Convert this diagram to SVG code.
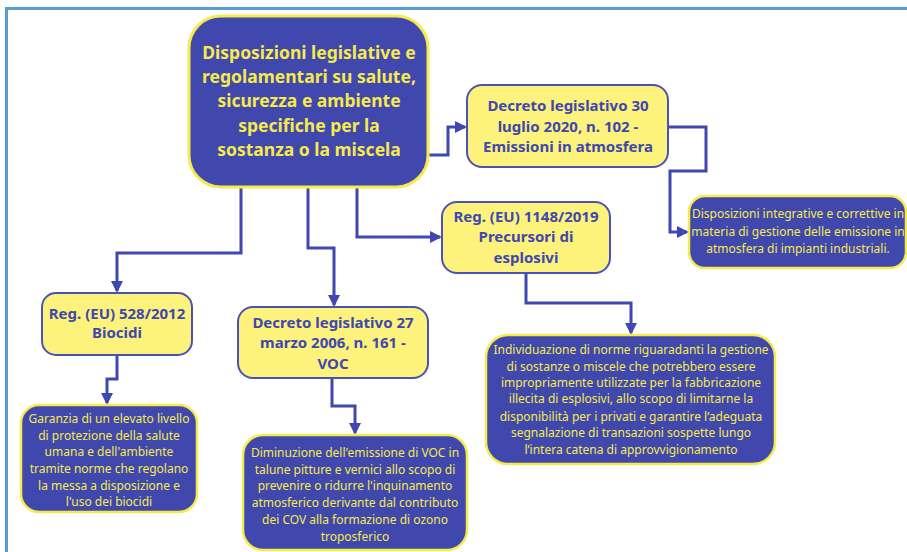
<svg xmlns="http://www.w3.org/2000/svg" width="907" height="552" viewBox="0 0 907 552">
<defs>
<marker id="ah" markerWidth="12" markerHeight="12" refX="10" refY="6" orient="auto" markerUnits="userSpaceOnUse">
<path d="M0,0 L12,6 L0,12 Z" fill="#3f47b0"/>
</marker>
<style>
.yb{fill:#fcf27c;stroke:#4a52b5;stroke-width:2}
.bb{fill:#4048ae;stroke:#f6ea4c;stroke-width:2.5}
.tb{font-family:"Noto Sans","Open Sans",sans-serif;font-weight:bold;fill:#4048ae;text-anchor:middle;font-size:15px}
.tm{font-family:"Noto Sans","Open Sans",sans-serif;font-weight:bold;fill:#f6ea4c;text-anchor:middle;font-size:17.5px}
.ty{font-family:"Noto Sans","Open Sans",sans-serif;fill:#f6ea4c;text-anchor:middle;font-size:12px}
.c{fill:none;stroke:#3f47b0;stroke-width:3}
</style>
</defs>
<rect width="907" height="552" fill="#ffffff"/>
<path d="M6.5,552 L6.5,8.5 L907,8.5" fill="none" stroke="#5b9bd5" stroke-width="3"/>

<g id="connectors">
<path class="c" d="M428,155 H448 V127 H465" marker-end="url(#ah)"/>
<path class="c" d="M668,127 H706 V171 H670 V232 H687" marker-end="url(#ah)"/>
<path class="c" d="M357,187 V237 H440" marker-end="url(#ah)"/>
<path class="c" d="M308,187 V248 H334 V305" marker-end="url(#ah)"/>
<path class="c" d="M241,187 V253 H117 V291" marker-end="url(#ah)"/>
<path class="c" d="M117,355 V379 H107 V403" marker-end="url(#ah)"/>
<path class="c" d="M332,378 V406 H355 V433" marker-end="url(#ah)"/>
<path class="c" d="M526,273 V303 H631 V333" marker-end="url(#ah)"/>
</g>

<g id="main">
<rect x="189" y="16" width="239" height="171" rx="32" fill="#4048ae" stroke="#f6ea4c" stroke-width="3"/>
<text class="tm" x="309" y="59">Disposizioni legislative e</text>
<text class="tm" x="309" y="83">regolamentari su salute,</text>
<text class="tm" x="309" y="107">sicurezza e ambiente</text>
<text class="tm" x="309" y="132">specifiche per la</text>
<text class="tm" x="309" y="156">sostanza o la miscela</text>
</g>

<g id="decreto30">
<rect class="yb" x="467" y="85" width="201" height="82" rx="15"/>
<text class="tb" x="568" y="111">Decreto legislativo 30</text>
<text class="tb" x="568" y="132">luglio 2020, n. 102 -</text>
<text class="tb" x="568" y="152">Emissioni in atmosfera</text>
</g>

<g id="integrative">
<rect class="bb" x="689" y="196" width="217" height="72" rx="16"/>
<text class="ty" x="798" y="218">Disposizioni integrative e correttive in</text>
<text class="ty" x="798" y="236">materia di gestione delle emissione in</text>
<text class="ty" x="798" y="253">atmosfera di impianti industriali.</text>
</g>

<g id="reg1148">
<rect class="yb" x="442" y="202" width="168" height="71" rx="15"/>
<text class="tb" x="526" y="222">Reg. (EU) 1148/2019</text>
<text class="tb" x="526" y="242">Precursori di</text>
<text class="tb" x="526" y="263">esplosivi</text>
</g>

<g id="reg528">
<rect class="yb" x="42" y="293" width="150" height="62" rx="14"/>
<text class="tb" x="117" y="319">Reg. (EU) 528/2012</text>
<text class="tb" x="117" y="338">Biocidi</text>
</g>

<g id="decreto27">
<rect class="yb" x="238" y="307" width="190" height="71" rx="15"/>
<text class="tb" x="333" y="328">Decreto legislativo 27</text>
<text class="tb" x="333" y="348">marzo 2006, n. 161 -</text>
<text class="tb" x="333" y="369">VOC</text>
</g>

<g id="garanzia">
<rect class="bb" x="21" y="405" width="176" height="107" rx="18"/>
<text class="ty" x="109" y="423">Garanzia di un elevato livello</text>
<text class="ty" x="109" y="440">di protezione della salute</text>
<text class="ty" x="109" y="456">umana e dell'ambiente</text>
<text class="ty" x="109" y="473">tramite norme che regolano</text>
<text class="ty" x="109" y="490">la messa a disposizione e</text>
<text class="ty" x="109" y="506">l'uso dei biocidi</text>
</g>

<g id="diminuzione">
<rect class="bb" x="243" y="435" width="224" height="115" rx="20"/>
<text class="ty" x="355" y="457">Diminuzione dell'emissione di VOC in</text>
<text class="ty" x="355" y="474">talune pitture e vernici allo scopo di</text>
<text class="ty" x="355" y="490">prevenire o ridurre l'inquinamento</text>
<text class="ty" x="355" y="507">atmosferico derivante dal contributo</text>
<text class="ty" x="355" y="524">dei COV alla formazione di ozono</text>
<text class="ty" x="355" y="541">troposferico</text>
</g>

<g id="individuazione">
<rect class="bb" x="486" y="335" width="289" height="129" rx="22"/>
<text class="ty" x="631" y="354">Individuazione di norme riguaradanti la gestione</text>
<text class="ty" x="631" y="371">di sostanze o miscele che potrebbero essere</text>
<text class="ty" x="631" y="387">impropriamente utilizzate per la fabbricazione</text>
<text class="ty" x="631" y="403">illecita di esplosivi, allo scopo di limitarne la</text>
<text class="ty" x="631" y="421">disponibilità per i privati e  garantire l’adeguata</text>
<text class="ty" x="631" y="437">segnalazione di transazioni sospette lungo</text>
<text class="ty" x="631" y="454">l’intera catena di approvvigionamento</text>
</g>
</svg>
